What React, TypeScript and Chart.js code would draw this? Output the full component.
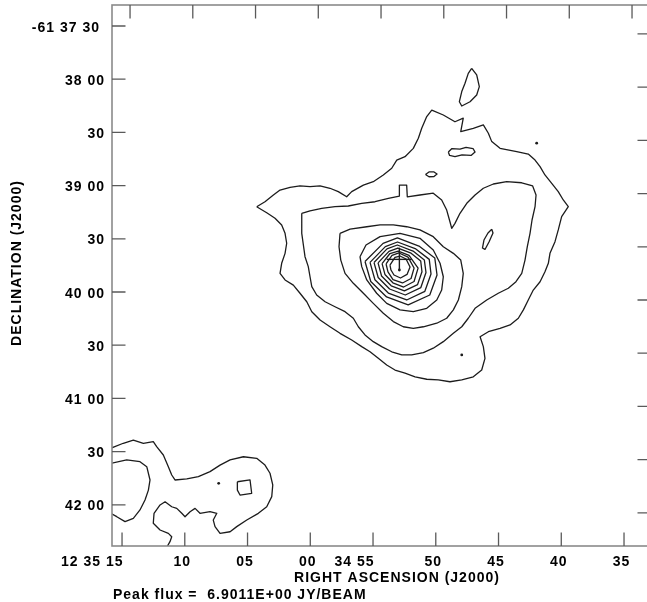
import { useEffect, useRef } from "react";
import { Chart, registerables } from "chart.js";

Chart.register(...registerables);

type Pt = [number, number];

// Right ascension in seconds of time past 12h34m00s; declination in arcsec south of -61°37'00".
const raTicks = [75, 70, 65, 60, 55, 50, 45, 40, 35];
const raTickLabels = ["12 35 15", "10", "05", "00", "34 55", "50", "45", "40", "35"];
const decTicks = [30, 60, 90, 120, 150, 180, 210, 240, 270, 300];
const decTickLabels = ["-61 37 30", "38 00", "30", "39 00", "30", "40 00", "30", "41 00", "30", "42 00"];

const raRange = { east: 75.8, west: 32.85 };
const decRange = { north: 18.16, south: 323.23 };

// Small rotation of the sky grid against the map frame (tan of the angle).
const GRID_TILT = 0.0148;

// Outer contour level
const contour1: Pt[] = [
  [64.27, 131.9], [63.61, 129.1], [62.94, 125.3], [62.41, 122.5], [61.61, 121.0], [60.82, 120.2],
  [60.02, 120.6], [59.22, 120.2], [58.43, 121.5], [57.77, 123.4], [57.1, 126.3], [56.7, 123.4],
  [55.77, 119.7], [54.98, 117.8], [54.18, 114.0], [53.51, 110.2], [53.11, 105.6], [52.45, 103.7],
  [51.79, 99.0], [51.39, 93.3], [51.12, 87.7], [50.72, 81.1], [50.32, 77.4], [49.4, 80.2],
  [48.47, 84.0], [47.81, 82.0], [48.01, 89.6], [47.01, 87.7], [46.21, 85.8], [45.81, 90.5],
  [45.54, 95.2], [44.88, 99.0], [43.55, 100.9], [42.63, 102.2], [42.09, 105.6], [41.69, 109.3],
  [41.3, 114.0], [40.76, 118.7], [40.24, 123.4], [39.84, 128.1], [39.44, 131.9], [39.97, 137.5],
  [40.24, 145.0], [40.5, 151.6], [40.9, 158.2], [41.03, 163.8], [41.3, 168.6], [41.69, 174.2],
  [42.23, 178.9], [42.63, 184.5], [43.02, 190.1], [43.42, 194.8], [44.08, 198.6], [44.88, 200.5],
  [45.81, 202.4], [46.47, 205.2], [46.21, 210.8], [46.08, 217.4], [46.34, 224.0], [47.01, 227.8],
  [47.93, 229.6], [48.87, 230.6], [49.8, 229.6], [50.72, 229.2], [51.65, 227.8], [52.45, 225.8],
  [53.25, 224.0], [53.91, 221.2], [54.58, 217.4], [55.24, 213.7], [55.9, 210.8], [56.7, 207.1],
  [57.63, 203.3], [58.43, 199.6], [59.22, 195.8], [59.88, 191.1], [60.28, 185.5], [60.82, 180.7],
  [61.35, 176.1], [62.01, 173.2], [62.41, 169.5], [62.28, 163.8], [62.01, 158.2], [61.88, 152.5],
  [62.01, 146.9], [62.28, 142.2], [62.81, 138.4], [63.47, 135.3],
];

const contour2: Pt[] = [
  [60.68, 135.6], [60.02, 134.2], [59.09, 132.8], [58.03, 131.9], [56.97, 131.5], [55.9, 130.0],
  [54.84, 129.1], [53.78, 127.2], [52.9, 125.9], [52.9, 119.7], [52.32, 119.7], [52.27, 126.3],
  [51.26, 125.3], [50.2, 124.3], [49.53, 128.1], [49.13, 133.8], [48.87, 140.4], [48.73, 144.1],
  [48.47, 141.3], [48.07, 135.6], [47.53, 130.0], [46.87, 125.3], [46.21, 121.5], [45.41, 119.1],
  [44.35, 117.8], [43.15, 118.4], [42.28, 120.2], [42.01, 125.3], [42.09, 131.9], [42.33, 139.4],
  [42.49, 146.9], [42.71, 154.5], [42.89, 162.0], [43.15, 169.5], [43.61, 174.2], [44.22, 177.9],
  [45.02, 180.7], [45.94, 184.5], [46.87, 189.2], [47.41, 194.8], [47.93, 199.6], [48.6, 203.3],
  [49.4, 208.0], [50.2, 211.7], [50.99, 214.2], [51.92, 215.5], [52.71, 215.5], [53.51, 213.7],
  [54.31, 210.8], [54.98, 208.0], [55.64, 204.2], [56.17, 199.6], [56.57, 194.8], [57.23, 191.1],
  [58.03, 188.3], [58.82, 185.5], [59.49, 181.7], [59.88, 177.0], [60.02, 171.4], [60.16, 165.7],
  [60.42, 160.1], [60.55, 153.5], [60.68, 146.9], [60.68, 141.3],
];

const contour3: Pt[] = [
  [57.63, 146.9], [56.83, 144.6], [55.5, 143.2], [54.44, 142.2], [53.38, 142.2], [52.32, 143.2],
  [51.26, 145.0], [50.2, 148.8], [49.4, 154.5], [48.6, 158.2], [48.01, 162.0], [47.81, 169.5],
  [47.93, 177.0], [48.2, 184.5], [48.6, 190.1], [49.13, 194.8], [49.92, 197.6], [50.99, 199.6],
  [51.79, 200.5], [52.59, 199.6], [53.38, 196.7], [54.18, 192.0], [54.98, 186.4], [55.77, 180.7],
  [56.57, 175.1], [57.23, 169.5], [57.57, 162.0], [57.71, 154.5],
];

// Nested levels around the peak
const contour4: Pt[] = [
  [56.04, 160.1], [55.56, 153.5], [54.44, 148.8], [52.85, 146.9], [51.26, 149.7], [50.2, 156.3],
  [49.66, 163.8], [49.4, 171.4], [49.53, 178.9], [49.92, 184.5], [50.72, 189.2], [51.79, 191.1],
  [52.85, 190.1], [53.91, 186.4], [54.71, 180.7], [55.5, 173.2], [55.9, 165.7],
];
const contour5: Pt[] = [
  [55.64, 162.8], [54.2, 152.6], [53.06, 149.5], [51.34, 154.1], [50.08, 160.8], [49.9, 170.4],
  [50.48, 181.7], [52.2, 187.3], [53.92, 182.8], [55.18, 174.1],
];
const contour6: Pt[] = [
  [55.24, 163.3], [54.02, 154.4], [53.05, 151.8], [51.59, 155.7], [50.52, 161.6], [50.38, 169.8],
  [50.87, 179.6], [52.32, 184.5], [53.78, 180.6], [54.85, 173.1],
];
const contour7: Pt[] = [
  [54.92, 163.4], [53.89, 155.7], [53.06, 153.5], [51.81, 156.9], [50.91, 162.0], [50.78, 169.0],
  [51.19, 177.5], [52.43, 181.7], [53.68, 178.3], [54.59, 171.8],
];
const contour8: Pt[] = [
  [54.6, 163.6], [53.73, 157.1], [53.02, 155.2], [51.97, 158.1], [51.2, 162.5], [51.1, 168.6],
  [51.45, 175.8], [52.5, 179.4], [53.55, 176.5], [54.32, 171.0],
];
const contour9: Pt[] = [
  [54.28, 164.0], [53.65, 158.3], [52.99, 156.9], [52.13, 159.4], [51.41, 166.5], [51.73, 174.1],
  [52.56, 177.2], [53.42, 174.8], [54.05, 170.1],
];
const contour10: Pt[] = [
  [53.96, 164.2], [53.49, 159.4], [52.93, 158.0], [52.21, 160.3], [51.73, 166.5], [51.97, 172.4],
  [52.65, 174.9], [53.41, 173.0], [53.81, 168.7],
];
const contour11: Pt[] = [
  [53.65, 164.8], [53.25, 160.5], [52.85, 159.7], [52.37, 161.4], [52.05, 165.9], [52.29, 170.1],
  [52.81, 172.1], [53.33, 170.4], [53.57, 167.6],
];

// Isolated islands of the outer level
const islandNorth: Pt[] = [
  [47.14, 53.9], [46.74, 57.6], [46.53, 64.2], [46.74, 68.9], [47.27, 72.7], [47.93, 75.1],
  [48.12, 72.7], [47.93, 67.0], [47.67, 62.3], [47.41, 56.7],
];
const islandOval: Pt[] = [
  [49.0, 101.1], [48.71, 99.1], [48.07, 99.4], [47.59, 98.5], [47.03, 99.1], [46.87, 101.1],
  [47.19, 103.0], [47.91, 102.7], [48.47, 103.6], [48.9, 103.0],
];
const islandSmall: Pt[] = [
  [50.82, 113.7], [50.54, 112.3], [50.14, 112.3], [49.9, 113.5], [50.14, 114.9], [50.54, 115.0],
];
const islandEast: Pt[] = [
  [45.54, 144.6], [45.44, 146.7], [45.76, 151.8], [46.08, 156.0], [46.28, 155.2], [46.16, 150.7],
  [45.84, 146.7],
];

// Second source at the south-east corner (runs off the map edges)
const southOuter: Pt[] = [
  [75.9, 268.1], [74.9, 265.3], [74.1, 263.5], [73.3, 265.3], [72.51, 264.4], [72.24, 267.2],
  [71.71, 271.9], [71.31, 278.5], [71.04, 283.2], [70.78, 286.0], [69.84, 285.4], [68.92, 284.1],
  [67.99, 281.3], [67.19, 277.6], [66.39, 274.7], [65.33, 272.9], [64.27, 273.8], [63.61, 277.6],
  [63.21, 282.2], [62.99, 288.8], [63.07, 295.4], [63.47, 301.1], [64.14, 304.8], [65.06, 308.6],
  [65.86, 312.3], [66.39, 315.2], [67.19, 316.1], [67.59, 312.3], [67.73, 308.6], [67.45, 304.8],
  [67.99, 303.9], [68.79, 304.8], [69.18, 302.0], [69.58, 303.9], [69.98, 306.7], [70.24, 304.8],
  [70.64, 302.0], [71.04, 301.1], [71.57, 298.3], [71.97, 300.1], [72.45, 304.8], [72.51, 310.4],
  [71.97, 314.2], [71.31, 316.1], [71.04, 318.0], [71.18, 320.8], [71.44, 324.0],
];
const southInner: Pt[] = [
  [75.9, 276.6], [74.63, 274.7], [73.57, 275.7], [73.03, 278.5], [72.77, 286.0], [72.9, 291.7],
  [73.17, 297.3], [73.57, 302.9], [74.1, 307.6], [74.76, 309.5], [75.42, 306.7], [75.9, 304.8],
];
const southKnot: Pt[] = [
  [65.81, 287.0], [64.8, 286.0], [64.67, 293.5], [65.6, 294.5], [65.81, 291.7],
];

// Single-pixel spots, including the map peak
const spots: Pt[] = [[41.96, 96.1], [47.93, 215.5], [67.3, 287.9], [52.9, 167.6]];

// Position marker cross
const markerH: Pt[] = [[53.91, 161.6], [51.92, 161.6]];
const markerV: Pt[] = [[52.9, 155.3], [52.9, 167.6]];

const peakFluxText = "Peak flux =  6.9011E+00 JY/BEAM";
const raTitle = "RIGHT ASCENSION (J2000)";
const decTitle = "DECLINATION (J2000)";

const ring = (pts: Pt[]): Pt[] => [...pts, pts[0]];
const toXY = (pts: Pt[]) => pts.map(([x, y]) => ({ x, y }));

const LINE = "#1c1c1c";
const FONT = "bold 14px 'Liberation Sans', Arial, Helvetica, sans-serif";

const lineSet = (pts: Pt[], width = 1.3) => ({
  data: toXY(pts),
  showLine: true,
  pointRadius: 0,
  borderColor: LINE,
  borderWidth: width,
  borderJoinStyle: "round" as const,
  fill: false,
  tension: 0,
});

const mapFrame = {
  id: "mapFrame",
  afterDatasetsDraw(chart: any) {
    const { ctx, chartArea: a, scales } = chart;
    const xs = scales.x;
    const ys = scales.y;
    const tick = 13.5;
    const topShift = GRID_TILT * (a.bottom - a.top);
    const rightShift = GRID_TILT * (a.right - a.left);

    ctx.save();
    ctx.strokeStyle = "#8a8a8a";
    ctx.lineWidth = 1.6;
    ctx.strokeRect(a.left, a.top, a.right - a.left, a.bottom - a.top);

    ctx.strokeStyle = "#5a5a5a";
    ctx.lineWidth = 1.3;
    ctx.beginPath();
    raTicks.forEach((v) => {
      const px = xs.getPixelForValue(v);
      ctx.moveTo(px, a.bottom);
      ctx.lineTo(px, a.bottom - tick);
      ctx.moveTo(px + topShift, a.top);
      ctx.lineTo(px + topShift, a.top + tick);
    });
    decTicks.forEach((v) => {
      const py = ys.getPixelForValue(v);
      ctx.moveTo(a.left, py);
      ctx.lineTo(a.left + tick, py);
      ctx.moveTo(a.right, py + rightShift);
      ctx.lineTo(a.right - tick, py + rightShift);
    });
    ctx.stroke();

    ctx.fillStyle = "#000";
    ctx.font = FONT;
    ctx.letterSpacing = "1px";
    ctx.textBaseline = "alphabetic";

    raTicks.forEach((v, i) => {
      const label = raTickLabels[i];
      const px = xs.getPixelForValue(v);
      if (label.includes(" ")) {
        ctx.textAlign = "right";
        ctx.fillText(label, px + 1.5, a.bottom + 20);
      } else {
        ctx.textAlign = "center";
        ctx.fillText(label, px - 2.5, a.bottom + 20);
      }
    });

    decTicks.forEach((v, i) => {
      const label = decTickLabels[i];
      const py = ys.getPixelForValue(v);
      ctx.textAlign = "right";
      const x = label.split(" ").length > 2 ? a.left - 12 : a.left - 7;
      ctx.fillText(label, x, py + 5.6);
    });

    ctx.textAlign = "center";
    ctx.fillText(raTitle, 397, a.bottom + 36);
    ctx.textAlign = "left";
    ctx.fillText(peakFluxText, a.left + 1, a.bottom + 53);

    ctx.translate(21, 263);
    ctx.rotate(-Math.PI / 2);
    ctx.textAlign = "center";
    ctx.fillText(decTitle, 0, 0);
    ctx.restore();
  },
};

export default function App() {
  const canvasRef = useRef<HTMLCanvasElement>(null);

  useEffect(() => {
    const canvas = canvasRef.current;
    if (!canvas) return;

    const datasets: any[] = [
      lineSet(ring(contour1)),
      lineSet(ring(contour2)),
      lineSet(ring(contour3)),
      lineSet(ring(contour4)),
      lineSet(ring(contour5)),
      lineSet(ring(contour6)),
      lineSet(ring(contour7)),
      lineSet(ring(contour8)),
      lineSet(ring(contour9)),
      lineSet(ring(contour10)),
      lineSet(ring(contour11)),
      lineSet(ring(islandNorth)),
      lineSet(ring(islandOval)),
      lineSet(ring(islandSmall)),
      lineSet(ring(islandEast)),
      lineSet(southOuter),
      lineSet(southInner),
      lineSet(ring(southKnot)),
      lineSet(markerH, 1.4),
      lineSet(markerV, 1.4),
      {
        data: toXY(spots),
        showLine: false,
        pointRadius: 1.4,
        pointBorderWidth: 0,
        pointBackgroundColor: LINE,
      },
    ];

    const chart = new Chart(canvas, {
      type: "scatter",
      data: { datasets },
      options: {
        responsive: false,
        animation: false,
        devicePixelRatio: 1,
        events: [],
        layout: { padding: { left: 112, top: 5, right: 9, bottom: 56 } },
        plugins: { legend: { display: false }, tooltip: { enabled: false } },
        scales: {
          x: { type: "linear", display: false, reverse: true, min: raRange.west, max: raRange.east },
          y: { type: "linear", display: false, reverse: true, min: decRange.north, max: decRange.south },
        },
      },
      plugins: [mapFrame],
    });

    return () => chart.destroy();
  }, []);

  return (
    <div
      style={{
        position: "fixed",
        left: 0,
        top: 0,
        width: 647,
        height: 602,
        overflow: "hidden",
        background: "#fff",
      }}
    >
      <canvas ref={canvasRef} width={660} height={602} style={{ display: "block", width: 660, height: 602 }} />
    </div>
  );
}
